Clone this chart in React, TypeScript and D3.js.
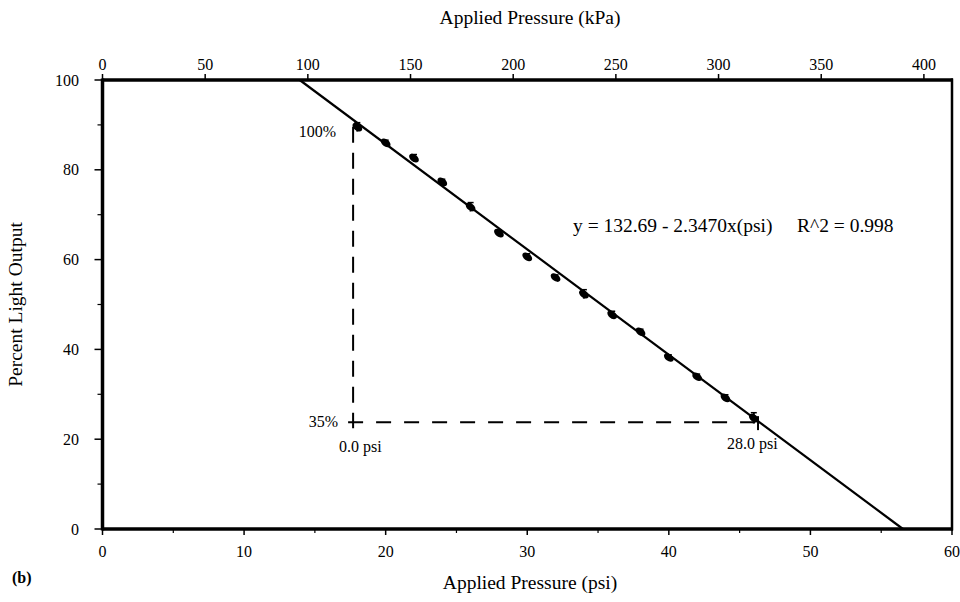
import React from "react";
import * as d3 from "d3";

const psi = [18, 20, 22, 24, 26, 28, 30, 32, 34, 36, 38, 40, 42, 44, 46];
const lightOutput = [89.5, 86.0, 82.6, 77.3, 71.7, 65.9, 60.6, 56.0, 52.3, 47.7, 43.9, 38.2, 33.9, 29.2, 24.7];
const errors = [1.0, 0.6, 0.8, 0.6, 1.0, 0.6, 0.7, 0.6, 1.0, 0.8, 0.6, 0.6, 0.6, 0.7, 1.2];
const fitIntercept = 132.69;
const fitSlope = -2.347;
const psiTicks = [0, 10, 20, 30, 40, 50, 60];
const psiMinor = [5, 15, 25, 35, 45, 55];
const kpaTicks = [0, 50, 100, 150, 200, 250, 300, 350, 400];
const yTicks = [0, 20, 40, 60, 80, 100];
const yMinor = [10, 30, 50, 70, 90];
const KPA_PER_PSI = 6.894757;
const annotX = 17.7;
const annotY = 23.8;
const annotXEnd = 46.3;

const FONT = "'Liberation Serif', 'DejaVu Serif', serif";

export default function App() {
  const x = d3.scaleLinear().domain([0, 60]).range([102.5, 952]);
  const xk = d3.scaleLinear().domain([0, 60 * KPA_PER_PSI]).range([102.5, 952]);
  const y = d3.scaleLinear().domain([0, 100]).range([529, 80]);

  const fit = (p: number) => fitIntercept + fitSlope * p;
  const xStart = (fitIntercept - 100) / -fitSlope;
  const xEnd = fitIntercept / -fitSlope;
  const line = d3.line<number>().x((p) => x(p)).y((p) => y(fit(p)));
  const angle = (Math.atan2(y(fit(1)) - y(fit(0)), x(1) - x(0)) * 180) / Math.PI;

  return (
    <svg width={960} height={602} style={{ position: "absolute", left: 0, top: 0, background: "#fff" }} fontFamily={FONT}>
      <rect x={0} y={0} width={960} height={602} fill="#fff" />
      {/* titles */}
      <text x={530} y={24} textAnchor="middle" fontSize={19.5}>Applied Pressure (kPa)</text>
      <text x={530} y={589} textAnchor="middle" fontSize={19.5}>Applied Pressure (psi)</text>
      <text x={12} y={583} fontSize={16} fontWeight="bold">(b)</text>
      <text transform={`translate(22,${(y(0) + y(100)) / 2}) rotate(-90)`} textAnchor="middle" fontSize={19.5}>
        Percent Light Output
      </text>

      {/* frame */}
      <line x1={x(0)} x2={x(60) + 1} y1={y(100)} y2={y(100)} stroke="#000" strokeWidth={3.5} />
      <line x1={x(0)} x2={x(60) + 1} y1={y(0)} y2={y(0)} stroke="#000" strokeWidth={3.5} />
      <line x1={x(0)} x2={x(0)} y1={y(100) - 1.5} y2={y(0) + 1.5} stroke="#000" strokeWidth={3.5} />
      <line x1={x(60)} x2={x(60)} y1={y(100) - 1.5} y2={y(0) + 1.5} stroke="#000" strokeWidth={2.5} />

      {/* bottom axis */}
      {psiTicks.map((t) => (
        <g key={"b" + t}>
          <line x1={x(t)} x2={x(t)} y1={y(0)} y2={y(0) + 6} stroke="#000" strokeWidth={1.5} />
          <text x={x(t)} y={557} textAnchor="middle" fontSize={16}>{t}</text>
        </g>
      ))}
      {psiMinor.map((t) => (
        <line key={"bm" + t} x1={x(t)} x2={x(t)} y1={y(0)} y2={y(0) + 4} stroke="#000" strokeWidth={1.2} />
      ))}

      {/* top axis */}
      {kpaTicks.map((t) => (
        <g key={"t" + t}>
          <line x1={xk(t)} x2={xk(t)} y1={y(100)} y2={y(100) - 6} stroke="#000" strokeWidth={1.5} />
          <text x={xk(t)} y={70} textAnchor="middle" fontSize={16}>{t}</text>
        </g>
      ))}

      {/* left axis */}
      {yTicks.map((t) => (
        <g key={"y" + t}>
          <line x1={x(0) - 8} x2={x(0)} y1={y(t)} y2={y(t)} stroke="#000" strokeWidth={1.5} />
          <text x={79} y={y(t) + 5.5} textAnchor="end" fontSize={16}>{t}</text>
        </g>
      ))}
      {yMinor.map((t) => (
        <line key={"ym" + t} x1={x(0) - 5} x2={x(0)} y1={y(t)} y2={y(t)} stroke="#000" strokeWidth={1.2} />
      ))}

      {/* fit line */}
      <path d={line([xStart, xEnd]) || ""} stroke="#000" strokeWidth={2.2} fill="none" />

      {/* dashed annotation */}
      <line x1={x(annotX)} x2={x(annotX)} y1={y(fit(annotX)) + 7} y2={y(annotY) + 6} stroke="#000" strokeWidth={2} strokeDasharray="16,10" />
      <line x1={x(annotX) - 5} x2={x(annotXEnd)} y1={y(annotY)} y2={y(annotY)} stroke="#000" strokeWidth={2} strokeDasharray="15,13" />
      <line x1={x(annotXEnd)} x2={x(annotXEnd)} y1={y(annotY) - 6} y2={y(annotY) + 8} stroke="#000" strokeWidth={2} />

      {/* data points */}
      {psi.map((p, i) => {
        const cx = x(p);
        const cy = y(lightOutput[i]);
        const e = errors[i];
        return (
          <g key={"p" + i}>
            <line x1={cx} x2={cx} y1={y(lightOutput[i] + e)} y2={y(lightOutput[i] - e)} stroke="#000" strokeWidth={2} />
            <line x1={cx - 3} x2={cx + 3} y1={y(lightOutput[i] + e)} y2={y(lightOutput[i] + e)} stroke="#000" strokeWidth={1.5} />
            <ellipse cx={cx} cy={cy} rx={5.5} ry={3.5} transform={`rotate(${angle},${cx},${cy})`} fill="#000" />
          </g>
        );
      })}

      {/* annotation text */}
      <text x={336} y={137} textAnchor="end" fontSize={16}>100%</text>
      <text x={338} y={427} textAnchor="end" fontSize={16}>35%</text>
      <text x={x(annotX) - 14} y={452} fontSize={16}>0.0 psi</text>
      <text x={727} y={449} fontSize={16}>28.0 psi</text>
      <text x={573} y={232} fontSize={19.5}>y = 132.69 - 2.3470x(psi)</text>
      <text x={797} y={232} fontSize={19.5}>R^2 = 0.998</text>
    </svg>
  );
}
